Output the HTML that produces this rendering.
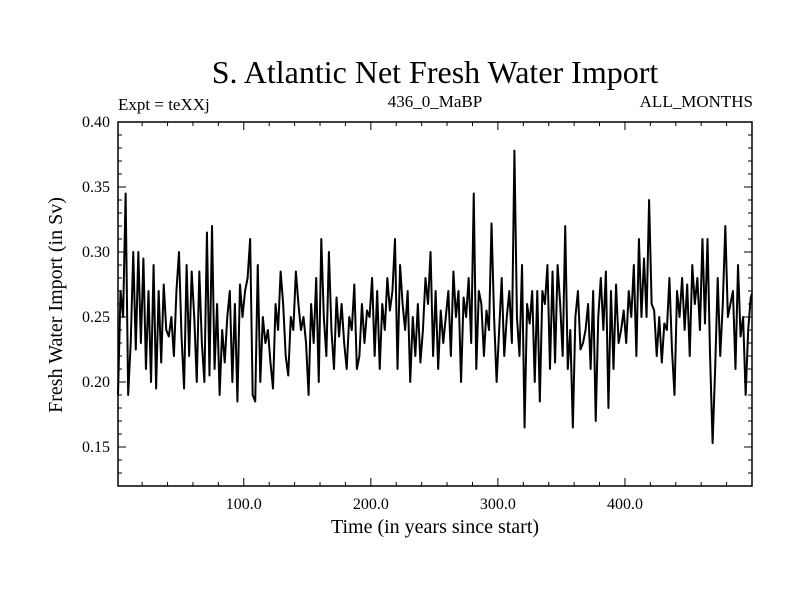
<!DOCTYPE html>
<html><head><meta charset="utf-8">
<style>
html,body{margin:0;padding:0;background:#fff;}
svg{display:block;font-family:"Liberation Serif",serif;}
</style></head>
<body>
<svg id="chart" width="800" height="600" viewBox="0 0 800 600" xmlns="http://www.w3.org/2000/svg">
<rect x="0" y="0" width="800" height="600" fill="#fff"/>
<text x="435" y="83" font-size="32" text-anchor="middle">S. Atlantic Net Fresh Water Import</text>
<text x="118" y="110" font-size="17">Expt = teXXj</text>
<text x="435" y="107" font-size="17" text-anchor="middle">436_0_MaBP</text>
<text x="753" y="107" font-size="17" text-anchor="end">ALL_MONTHS</text>
<text transform="translate(62,305) rotate(-90)" font-size="20" text-anchor="middle">Fresh Water Import (in Sv)</text>
<text x="435" y="533" font-size="20" text-anchor="middle">Time (in years since start)</text>
<g id="axes"></g>
<g id="series"></g>
<rect x="118" y="122" width="634" height="364" fill="none" stroke="#000" stroke-width="1.5"/>
</svg>
<script>
const xTicks = [100, 200, 300, 400];
const xTickLabels = ["100.0", "200.0", "300.0", "400.0"];
const yTicks = [0.15, 0.20, 0.25, 0.30, 0.35, 0.40];
const yTickLabels = ["0.15", "0.20", "0.25", "0.30", "0.35", "0.40"];
const startYear = 1;
const yearStep = 2;
const importValues = [
.19,.27,.25,.345,.19,.23,.30,.225,.30,.23,
.295,.21,.27,.20,.29,.195,.27,.215,.275,.24,
.235,.25,.22,.27,.30,.235,.195,.29,.22,.285,
.25,.20,.285,.23,.20,.315,.205,.32,.21,.26,
.19,.24,.215,.25,.27,.20,.26,.185,.275,.25,
.27,.28,.31,.19,.185,.29,.20,.25,.23,.24,
.215,.195,.26,.24,.285,.26,.22,.205,.25,.24,
.285,.26,.24,.25,.23,.19,.26,.23,.28,.20,
.31,.25,.22,.30,.24,.21,.265,.235,.26,.23,
.21,.25,.24,.275,.21,.22,.26,.23,.255,.25,
.28,.22,.27,.21,.26,.24,.28,.255,.27,.31,
.21,.29,.26,.24,.27,.20,.25,.22,.26,.215,
.24,.28,.26,.30,.22,.27,.21,.255,.23,.25,
.27,.22,.285,.25,.27,.20,.265,.25,.28,.23,
.345,.21,.27,.26,.22,.255,.24,.322,.25,.20,
.24,.28,.22,.25,.27,.23,.378,.25,.22,.29,
.165,.26,.245,.27,.20,.27,.185,.27,.26,.29,
.21,.285,.215,.29,.26,.22,.32,.21,.24,.165,
.25,.27,.225,.23,.24,.26,.21,.27,.17,.25,
.28,.24,.285,.18,.27,.21,.275,.23,.24,.255,
.23,.27,.25,.29,.22,.31,.25,.295,.25,.34,
.26,.255,.22,.25,.215,.245,.24,.28,.225,.19,
.27,.25,.28,.24,.275,.22,.29,.26,.28,.24,
.31,.245,.31,.22,.153,.21,.28,.22,.26,.32,
.25,.26,.27,.21,.29,.235,.25,.19,.24,.265,.268
];
const X0=118, X1=752, Y0=486, Y1=122;
const xMin=1, xMax=500, yMin=0.12, yMax=0.40;
function xs(v){return X0+(v-xMin)/(xMax-xMin)*(X1-X0);}
function ys(v){return Y0-(v-yMin)/(yMax-yMin)*(Y0-Y1);}
const NS="http://www.w3.org/2000/svg";
const axes=document.getElementById('axes');
function line(x1,y1,x2,y2,name){
  const l=document.createElementNS(NS,'line');
  l.setAttribute('x1',x1);l.setAttribute('y1',y1);l.setAttribute('x2',x2);l.setAttribute('y2',y2);
  l.setAttribute('stroke','#000');l.setAttribute('stroke-width','1');
  
  
  axes.appendChild(l);
}
function text(x,y,s,anchor,name){
  const t=document.createElementNS(NS,'text');
  t.setAttribute('x',x);t.setAttribute('y',y);t.setAttribute('font-size','16');
  t.setAttribute('text-anchor',anchor);t.textContent=s;
  
  
  axes.appendChild(t);
}
for(let v=20; v<500; v+=20){
  const x=xs(v); const major=(v%100===0);
  const L=major?8:4;
  line(x,Y0,x,Y0-L,'x-tick');
  line(x,Y1,x,Y1+L,'x-tick-top');
}
xTicks.forEach((v,i)=>text(xs(v),Y0+23,xTickLabels[i],'middle','x-tick-label'));
for(let k=13;k<=39;k++){
  const v=k/100; const y=ys(v); const major=(k%5===0);
  const L=major?8:4;
  line(X0,y,X0+L,y,'y-tick');
  line(X1,y,X1-L,y,'y-tick-right');
}
yTicks.forEach((v,i)=>text(X0-8,ys(v)+5,yTickLabels[i],'end','y-tick-label'));
const pts=importValues.map((v,i)=>{
  const yr=Math.min(startYear+i*yearStep,xMax);
  return xs(yr).toFixed(2)+','+ys(v).toFixed(2);
}).join(' ');
const pl=document.createElementNS(NS,'polyline');
pl.setAttribute('points',pts);pl.setAttribute('fill','none');
pl.setAttribute('stroke','#000');pl.setAttribute('stroke-width','2');
pl.setAttribute('stroke-linejoin','round');


document.getElementById('series').appendChild(pl);
</script>
</body></html>
